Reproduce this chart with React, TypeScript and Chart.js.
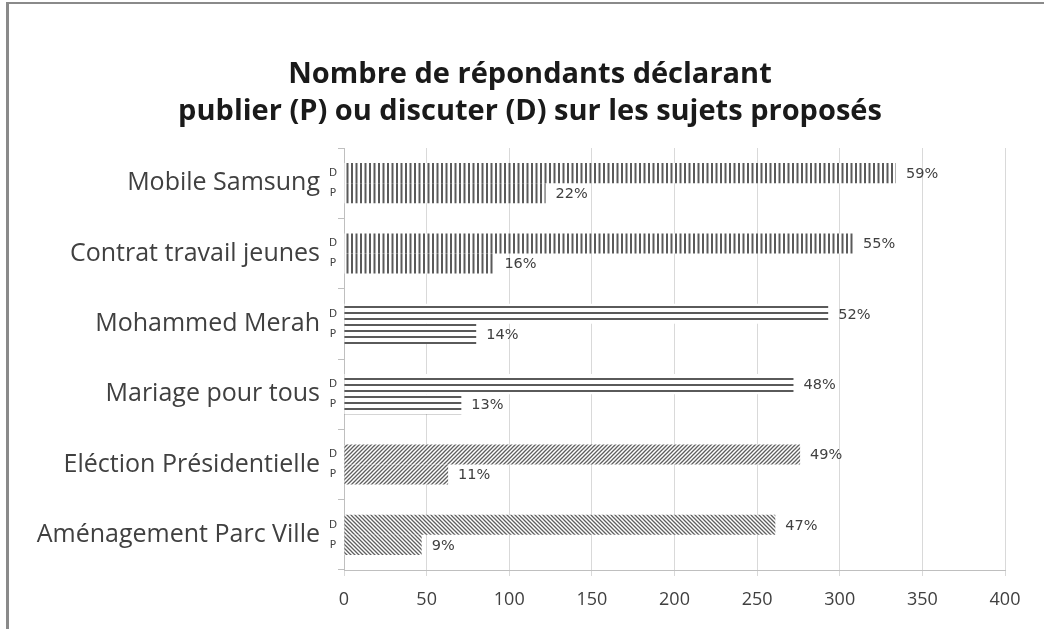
import React, { useEffect, useRef } from "react";
import { Chart, registerables } from "chart.js";

Chart.register(...registerables);

const titleLines = [
  "Nombre de répondants déclarant",
  "publier (P) ou discuter (D) sur les sujets proposés",
];
const categories = [
  "Mobile Samsung",
  "Contrat travail jeunes",
  "Mohammed Merah",
  "Mariage pour tous",
  "Eléction Présidentielle",
  "Aménagement Parc Ville",
];
const seriesNames = ["D", "P"];
const discuterValues = [334, 308, 293, 272, 276, 261];
const publierValues = [122, 91, 80, 71, 63, 47];
const discuterLabels = ["59%", "55%", "52%", "48%", "49%", "47%"];
const publierLabels = ["22%", "16%", "14%", "13%", "11%", "9%"];
const patternKinds = ["vertical", "vertical", "horizontal", "horizontal", "diagUp", "diagDown"];
const xMin = 0;
const xMax = 400;
const xStep = 50;

const FONT = "'Open Sans', Lato, sans-serif";
const SMALL_FONT = "'DejaVu Sans', Verdana, sans-serif";

function makePattern(kind: string): CanvasPattern | string {
  const c = document.createElement("canvas");
  const ctx = c.getContext("2d");
  if (!ctx) return "#777";
  if (kind === "vertical") {
    c.width = 9; c.height = 4;
    ctx.fillStyle = "#ffffff"; ctx.fillRect(0, 0, 9, 4);
    ctx.fillStyle = "#5a5a5a";
    ctx.fillRect(0, 0, 2, 4);
    ctx.fillRect(4.5, 0, 2, 4);
  } else if (kind === "horizontal") {
    c.width = 6; c.height = 6;
    ctx.fillStyle = "#ffffff"; ctx.fillRect(0, 0, 6, 6);
    ctx.fillStyle = "#5a5a5a"; ctx.fillRect(0, 0, 6, 2);
  } else {
    c.width = 4; c.height = 4;
    ctx.fillStyle = "#ffffff"; ctx.fillRect(0, 0, 4, 4);
    ctx.strokeStyle = "#5f5f5f"; ctx.lineWidth = 1.3;
    ctx.beginPath();
    if (kind === "diagUp") {
      ctx.moveTo(-1, 5); ctx.lineTo(5, -1);
      ctx.moveTo(-1, 1); ctx.lineTo(1, -1);
      ctx.moveTo(3, 5); ctx.lineTo(5, 3);
    } else {
      ctx.moveTo(-1, -1); ctx.lineTo(5, 5);
      ctx.moveTo(3, -1); ctx.lineTo(5, 1);
      ctx.moveTo(-1, 3); ctx.lineTo(1, 5);
    }
    ctx.stroke();
  }
  return ctx.createPattern(c, "repeat") || "#777";
}

const labelPlugin = {
  id: "customLabels",
  afterDraw(chart: any) {
    const ctx = chart.ctx;
    const area = chart.chartArea;
    ctx.save();
    // Title
    ctx.fillStyle = "#1a1a1a";
    ctx.font = `bold 29px ${FONT}`;
    ctx.textAlign = "center";
    ctx.textBaseline = "middle";
    ctx.fillText(titleLines[0], 530, 75);
    ctx.fillText(titleLines[1], 530, 112);

    const labelSets = [discuterLabels, publierLabels];
    for (let d = 0; d < 2; d++) {
      const meta = chart.getDatasetMeta(d);
      meta.data.forEach((bar: any, i: number) => {
        ctx.fillStyle = "#404040";
        ctx.font = `14.5px ${SMALL_FONT}`;
        ctx.textAlign = "left";
        ctx.textBaseline = "middle";
        ctx.fillText(labelSets[d][i], bar.x + 10, bar.y + 1);
        ctx.font = `10.5px ${SMALL_FONT}`;
        ctx.textAlign = "center";
        ctx.fillText(seriesNames[d], area.left - 11, bar.y);
      });
    }
    ctx.restore();
  },
};

export default function App() {
  const ref = useRef<HTMLCanvasElement | null>(null);
  useEffect(() => {
    if (!ref.current) return;
    const patterns = patternKinds.map((k) => makePattern(k));
    const chart = new Chart(ref.current, {
      type: "bar",
      data: {
        labels: categories,
        datasets: [
          {
            label: seriesNames[0],
            data: discuterValues,
            backgroundColor: patterns,
            borderWidth: 0,
            categoryPercentage: 0.57,
            barPercentage: 1,
          },
          {
            label: seriesNames[1],
            data: publierValues,
            backgroundColor: patterns,
            borderWidth: 0,
            categoryPercentage: 0.57,
            barPercentage: 1,
          },
        ],
      },
      options: {
        indexAxis: "y",
        responsive: false,
        animation: false,
        layout: { padding: { top: 148, right: 39, left: 0, bottom: 0 } },
        plugins: {
          legend: { display: false },
          tooltip: { enabled: false },
          title: { display: false },
        },
        scales: {
          x: {
            min: xMin,
            max: xMax,
            ticks: {
              stepSize: xStep,
              color: "#404040",
              font: { family: FONT, size: 18 },
              padding: 13,
            },
            grid: { color: "#d9d9d9", tickLength: 6, lineWidth: 1 },
            border: { color: "#bfbfbf" },
            afterFit: (s: any) => {
              s.height = 59;
            },
          },
          y: {
            ticks: {
              color: "#404040",
              font: { family: FONT, size: 25 },
              padding: 18,
            },
            grid: { drawOnChartArea: false, tickLength: 6, color: "#bfbfbf" },
            border: { color: "#bfbfbf" },
            afterFit: (s: any) => {
              s.width = 344;
            },
          },
        },
      },
      plugins: [labelPlugin],
    } as any);
    return () => chart.destroy();
  }, []);

  return (
    <div style={{ position: "fixed", left: 0, top: 0, width: 1044, height: 629, background: "#ffffff" }}>
      <canvas ref={ref} width={1044} height={629} style={{ position: "absolute", left: 0, top: 0 }} />
      <div
        style={{
          position: "absolute",
          left: 6,
          top: 2,
          right: 0,
          bottom: 0,
          borderLeft: "3px solid #8a8a8a",
          borderTop: "2px solid #8a8a8a",
          pointerEvents: "none",
        }}
      />
    </div>
  );
}
